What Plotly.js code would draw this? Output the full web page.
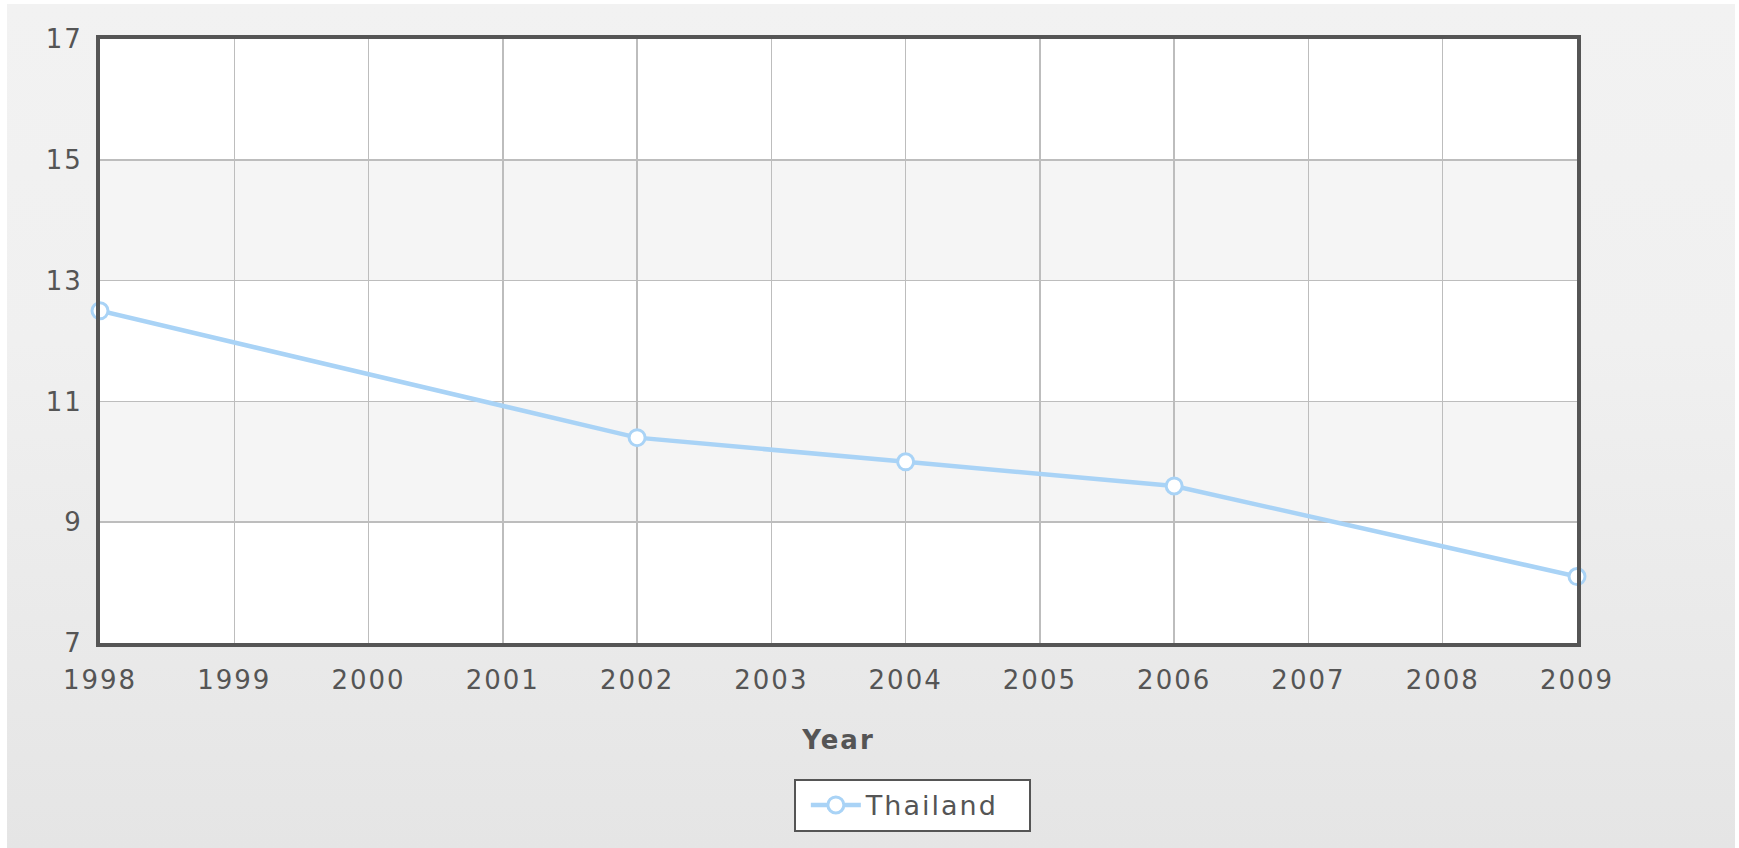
<!DOCTYPE html>
<html>
<head>
<meta charset="utf-8">
<script src="https://cdn.plot.ly/plotly-3.0.1.min.js"></script>
<style>
  html, body { margin: 0; padding: 0; background: #ffffff; width: 1739px; height: 848px; overflow: hidden; }
  #bg { position: absolute; left: 7px; top: 4px; width: 1728px; height: 844px;
        background: linear-gradient(to bottom, #f2f2f2 0%, #f0f0f0 40%, #e5e5e5 100%); }
  #chart { position: absolute; left: 0; top: 0; width: 1739px; height: 848px; }
  #chart text { letter-spacing: 2px; }
</style>
</head>
<body>
<div id="bg"></div>
<div id="chart"></div>
<script>
const years = [1998, 2002, 2004, 2006, 2009];
const values = [12.5, 10.4, 10.0, 9.6, 8.1];
const seriesName = 'Thailand';
const xTicks = [1998, 1999, 2000, 2001, 2002, 2003, 2004, 2005, 2006, 2007, 2008, 2009];
const yTicks = [7, 9, 11, 13, 15, 17];
const xTitle = 'Year';

const lineColor = '#a9d3f6';
const textColor = '#555555';
const font = { family: 'DejaVu Sans, Verdana, sans-serif', size: 26, color: textColor };

// alternating horizontal bands between y gridlines
const shapes = [];
for (let i = 0; i < yTicks.length - 1; i++) {
  if (i % 2 === 1) {
    shapes.push({ type: 'rect', xref: 'paper', yref: 'y', x0: 0, x1: 1,
      y0: yTicks[i], y1: yTicks[i + 1], fillcolor: '#f5f5f5', line: { width: 0 }, layer: 'below' });
  }
}

const trace = {
  x: years, y: values, name: seriesName, type: 'scatter', mode: 'lines+markers',
  line: { color: lineColor, width: 4.5 },
  marker: { size: 16, color: '#ffffff', line: { color: lineColor, width: 3 } },
  cliponaxis: false
};

const layout = {
  width: 1739, height: 848,
  paper_bgcolor: 'rgba(0,0,0,0)', plot_bgcolor: '#ffffff',
  margin: { l: 100, r: 162, t: 39, b: 205 },
  font: font,
  showlegend: true,
  legend: {
    orientation: 'h',
    x: 0.55, xanchor: 'center', y: -0.225, yanchor: 'top',
    bgcolor: '#ffffff', bordercolor: '#555555', borderwidth: 2,
    font: { family: font.family, size: 27, color: textColor },
    entrywidth: 158, entrywidthmode: 'pixels', itemwidth: 50, indentation: 10
  },
  xaxis: {
    range: [1998, 2009], tickvals: xTicks, ticktext: xTicks.map(String),
    showgrid: true, gridcolor: '#bdbdbd', gridwidth: 1.5,
    showline: true, linecolor: '#555555', linewidth: 4, mirror: true,
    ticks: '', zeroline: false, tickfont: font, ticklabelstandoff: 11,
    title: { text: '<b>' + xTitle + '</b>', font: font, standoff: 38 }
  },
  yaxis: {
    range: [7, 17], tickvals: yTicks, ticktext: yTicks.map(String),
    showgrid: true, gridcolor: '#bdbdbd', gridwidth: 1.5,
    showline: true, linecolor: '#555555', linewidth: 4, mirror: true,
    ticks: '', zeroline: false, tickfont: font, ticklabelstandoff: 8
  },
  shapes: shapes
};

Plotly.newPlot('chart', [trace], layout, { displayModeBar: false, staticPlot: true });
</script>
</body>
</html>
